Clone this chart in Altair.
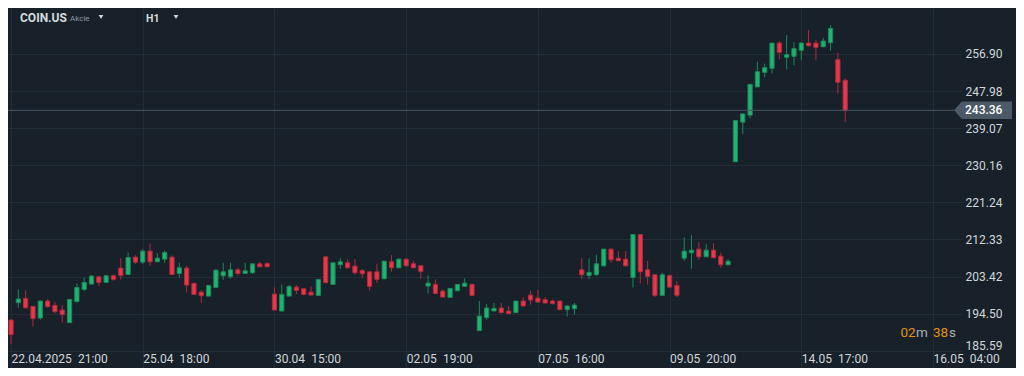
import altair as alt
import pandas as pd

# ---- data (hourly candles) ----
opens = [192.99, 197.15, 198.19, 196.27, 193.47, 197.55, 196.51, 195.39, 192.35, 197.39,
         200.34, 201.62, 203.38, 202.02, 203.62, 205.45, 203.93, 208.09, 206.89, 209.53,
         206.97, 207.61, 208.09, 204.17, 205.45, 201.78, 199.70, 198.74, 200.82, 203.62,
         203.38, 205.05, 204.17, 204.33, 206.49, 206.57, 199.22, 195.15, 198.74, 200.90,
         200.50, 199.70, 198.90, 208.17, 201.54, 206.25, 206.73, 205.93, 204.89, 204.57,
         204.57, 202.90, 206.97, 205.53, 207.61, 206.49, 206.01, 201.14, 201.54, 199.94,
         198.42, 200.02, 201.06, 201.54, 190.44, 193.55, 195.15, 195.87, 195.15, 194.75,
         197.55, 198.98, 198.26, 197.87, 197.55, 197.55, 195.47, 195.71, 205.05, 203.70,
         203.86, 206.01, 210.01, 207.85, 207.61, 203.22, 213.52, 205.05, 203.86, 198.90,
         203.70, 201.30, 207.85, 209.13, 210.01, 208.17, 209.77, 208.33, 206.25, 231.01,
         240.51, 242.19, 248.98, 252.49, 253.45, 259.52, 256.09, 256.33, 257.77, 259.52,
         259.52, 258.64, 259.60, 255.53, 250.58]
highs = [193.10, 200.34, 200.10, 196.27, 197.71, 197.95, 197.31, 196.51, 197.95, 201.70,
         203.14, 203.78, 203.62, 203.70, 203.93, 207.85, 209.21, 208.57, 210.01, 211.36,
         209.05, 209.69, 208.49, 206.73, 206.01, 202.02, 200.10, 201.38, 205.13, 206.73,
         206.73, 205.53, 206.73, 206.49, 207.05, 206.89, 200.82, 201.54, 201.38, 201.38,
         200.50, 201.06, 202.74, 208.41, 206.73, 207.85, 207.61, 207.61, 205.21, 204.57,
         206.49, 207.13, 208.57, 207.85, 207.61, 207.13, 206.01, 203.70, 202.74, 200.34,
         200.58, 201.54, 202.98, 201.78, 197.55, 196.83, 197.07, 197.07, 196.35, 197.55,
         198.50, 200.10, 200.18, 198.50, 197.87, 197.55, 196.59, 197.07, 207.85, 207.85,
         208.65, 210.01, 210.25, 209.53, 209.53, 213.52, 213.52, 207.21, 203.86, 204.34,
         203.70, 202.34, 212.88, 213.36, 211.68, 211.20, 211.44, 209.20, 207.61, 240.91,
         242.51, 249.62, 255.05, 254.57, 259.52, 260.00, 261.44, 259.76, 259.76, 262.64,
         260.24, 260.72, 263.84, 257.21, 251.06]
lows = [187.16, 195.95, 195.63, 191.39, 193.07, 195.95, 194.59, 192.35, 192.35, 197.39,
        199.94, 201.62, 201.14, 201.94, 202.42, 202.74, 203.93, 206.49, 206.49, 206.01,
        206.97, 206.73, 203.93, 203.14, 199.62, 198.98, 197.07, 198.74, 200.82, 202.66,
        202.90, 203.62, 204.10, 204.10, 205.77, 205.61, 195.39, 195.15, 198.74, 199.22,
        198.90, 198.98, 198.90, 201.94, 201.54, 205.29, 205.53, 203.86, 203.14, 200.10,
        201.94, 202.90, 204.57, 205.53, 205.85, 205.53, 202.90, 199.38, 199.38, 198.50,
        198.42, 199.86, 201.06, 198.90, 190.44, 193.07, 195.15, 194.75, 194.51, 194.75,
        196.19, 196.67, 197.15, 196.91, 196.75, 195.39, 193.79, 194.27, 202.74, 202.82,
        203.62, 205.77, 206.73, 207.21, 205.77, 200.82, 201.78, 201.54, 198.50, 198.90,
        200.74, 198.50, 207.21, 205.29, 207.45, 208.17, 207.93, 205.53, 206.25, 231.01,
        237.64, 241.47, 248.98, 251.30, 252.26, 255.61, 253.21, 254.17, 255.37, 258.64,
        255.37, 258.48, 257.69, 247.38, 240.51]
closes = [189.48, 198.03, 195.95, 193.31, 197.55, 196.19, 194.99, 194.27, 197.95, 200.82,
          202.02, 203.54, 202.02, 203.62, 202.74, 203.70, 208.01, 206.89, 209.53, 206.97,
          207.85, 209.21, 203.93, 205.53, 201.38, 199.14, 198.82, 201.30, 204.97, 204.57,
          205.05, 204.17, 204.81, 206.49, 205.77, 205.77, 195.39, 199.14, 201.06, 200.10,
          199.14, 198.98, 202.74, 201.94, 206.73, 206.97, 205.53, 204.33, 204.10, 201.06,
          202.74, 207.13, 205.53, 207.61, 206.01, 205.53, 204.65, 201.86, 199.38, 198.50,
          200.58, 201.54, 201.86, 198.90, 193.95, 195.87, 195.79, 194.75, 194.51, 197.55,
          196.35, 197.79, 197.31, 197.07, 196.91, 195.47, 196.35, 196.59, 203.86, 204.42,
          206.49, 210.01, 207.45, 207.21, 206.01, 213.52, 204.58, 203.46, 198.90, 203.86,
          200.90, 198.90, 209.53, 209.77, 208.17, 209.77, 207.93, 206.25, 207.13, 240.91,
          242.51, 249.62, 252.65, 253.61, 259.52, 257.29, 256.73, 258.17, 259.52, 258.88,
          258.48, 260.00, 263.04, 250.10, 243.36]

y_ticks = [185.59, 194.50, 203.42, 212.33, 221.24, 230.16, 239.07, 247.98, 256.90]
x_tick_pos = [0, 18, 36, 54, 72, 90, 108, 126]
x_tick_labels = ["22.04.2025\u200221:00", "25.04\u200218:00", "30.04\u200215:00",
                 "02.05\u200219:00", "07.05\u200216:00", "09.05\u200220:00",
                 "14.05\u200217:00", "16.05\u200204:00"]
last_price = [243.36]

# ---- styling ----
BG = "#18212a"
GRID = "#232d37"
TXT = "#d2d6da"
UP = "#22b374"
UP_DARK = "#178a58"
DN = "#e5394d"
DN_DARK = "#b02a3c"
FONT = "Roboto"
W, H = 954, 360
TOTAL_W = 1008

rows = []
for i, (o, h, l, c) in enumerate(zip(opens, highs, lows, closes)):
    rows.append(dict(i=i, o=o, h=h, l=l, c=c,
                     lo=min(o, c), hi=max(o, c),
                     dir="up" if c >= o else "down"))
df = pd.DataFrame(rows)

xs = alt.Scale(domain=[0.27, 129.28], nice=False, zero=False)
ys = alt.Scale(domain=[181.46, 267.94], nice=False, zero=False)
col_fill = alt.Scale(domain=["up", "down"], range=[UP, DN])
col_dark = alt.Scale(domain=["up", "down"], range=[UP_DARK, DN_DARK])

label_expr = "[" + ",".join("'" + s + "'" for s in x_tick_labels) + "][round(datum.value/18)]"

xaxis = alt.Axis(values=x_tick_pos, labelExpr=label_expr, grid=True, gridColor=GRID,
                 domain=False, ticks=False, labelAlign="left", labelBaseline="middle",
                 labelPadding=0, offset=-10, labelColor=TXT, labelFontSize=12,
                 labelFont=FONT, title=None, labelBound=False, labelFlush=False,
                 labelOverlap=False)
yaxis = alt.Axis(values=y_ticks, format=".2f", orient="right", grid=True, gridColor=GRID,
                 domain=False, ticks=False, labelPadding=3, labelAlign="left",
                 labelBaseline="middle", labelColor=TXT, labelFontSize=12, labelFont=FONT,
                 labelOffset={"condition": {"test": "datum.value < 190", "value": -5},
                              "value": 0},
                 title=None, labelOverlap=False, labelBound=False, labelFlush=False)

base = alt.Chart(df)

wicks = base.mark_rule(strokeWidth=1).encode(
    x=alt.X("i:Q", scale=xs, axis=xaxis),
    y=alt.Y("l:Q", scale=ys, axis=yaxis),
    y2="h:Q",
    color=alt.Color("dir:N", scale=col_dark, legend=None),
)

bodies = base.mark_bar(size=4.2, strokeWidth=1).encode(
    x=alt.X("i:Q", scale=xs, axis=xaxis),
    y=alt.Y("lo:Q", scale=ys, axis=yaxis),
    y2="hi:Q",
    fill=alt.Fill("dir:N", scale=col_fill, legend=None),
    stroke=alt.Stroke("dir:N", scale=col_dark, legend=None),
)

pdf = pd.DataFrame({"p": last_price})
pline = alt.Chart(pdf).mark_rule(color="#4a5864", strokeWidth=1).encode(
    y=alt.Y("p:Q", scale=ys, axis=yaxis), x=alt.value(0), x2=alt.value(946))
ptag = alt.Chart(pdf).mark_point(
    shape="M-1,0L-0.73,-0.3L1,-0.3L1,0.3L-0.73,0.3Z", size=3364, filled=True,
    fill="#4b5a66", opacity=1).encode(
    y=alt.Y("p:Q", scale=ys, axis=yaxis), x=alt.value(975))
ptext = alt.Chart(pdf).mark_text(align="left", baseline="middle", font=FONT,
                                 fontSize=12, color="#ffffff", fontWeight=500).encode(
    y=alt.Y("p:Q", scale=ys, axis=yaxis), x=alt.value(957),
    text=alt.Text("p:Q", format=".2f"))

def label(txt, x, y, size, color, weight="normal"):
    return alt.Chart(pd.DataFrame({"t": [txt]})).mark_text(
        align="left", baseline="middle", font=FONT, fontSize=size, color=color,
        fontWeight=weight).encode(text="t:N", x=alt.value(x), y=alt.value(y))

def tri(x, y):
    return alt.Chart(pd.DataFrame({"t": [0]})).mark_point(
        shape="triangle-down", size=22, filled=True, color="#d0d4d8", opacity=1).encode(
        x=alt.value(x), y=alt.value(y))

header = [
    label("COIN.US", 12, 10, 12, "#d6dade", "bold"),
    label("Akcie", 62, 10.5, 8, "#8d98a2"),
    tri(93, 9),
    label("H1", 138, 11, 10.5, "#d6dade", "bold"),
    tri(168, 9),
]
countdown = [
    label("02", 892.5, 324.5, 13.5, "#e39110"),
    label("m", 908, 324.5, 13.5, "#a8b0b8"),
    label("38", 925, 324.5, 13.5, "#e39110"),
    label("s", 941, 324.5, 13.5, "#a8b0b8"),
]

chart = alt.layer(wicks, bodies, pline, ptag, ptext, *header, *countdown).properties(
    width=W, height=H,
    autosize=alt.AutoSizeParams(type="none"),
    padding={"left": 0, "top": 0, "right": TOTAL_W - W, "bottom": 0},
).configure(background=BG).configure_view(stroke=None)

chart.save("out.html", embed_options={"renderer": "svg", "actions": False})
